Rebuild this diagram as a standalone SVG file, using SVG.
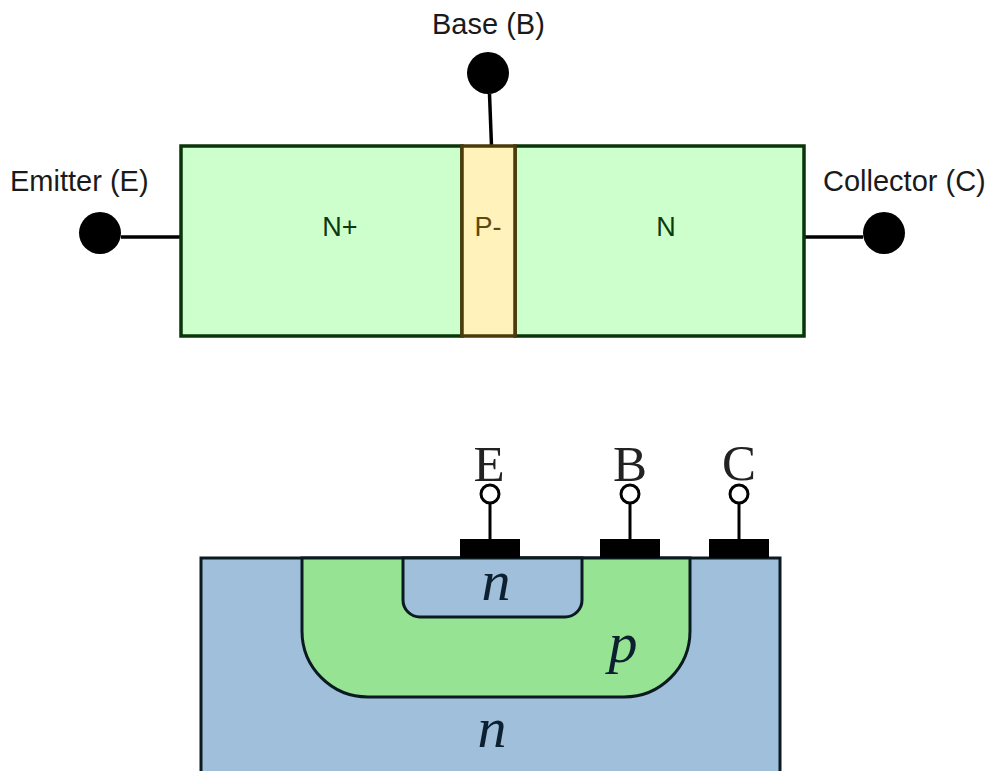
<svg xmlns="http://www.w3.org/2000/svg" width="990" height="771" viewBox="0 0 990 771">
<style>
.lab{font-family:"Liberation Sans",Arial,sans-serif;font-size:29px;fill:#1a1a1a}
.reg{font-family:"Liberation Sans",Arial,sans-serif;font-size:27px;text-anchor:middle}
.wire{stroke:#000;stroke-width:3.5;fill:none}
.dot{fill:#000}
.box{stroke:#0a350a;stroke-width:3.5}
.ser{font-family:"Liberation Serif",serif;font-size:51px;text-anchor:middle;fill:#222}
.it{font-family:"Liberation Serif",serif;font-style:italic;font-size:58px;text-anchor:middle;fill:#0c2030}
.term{fill:#fff;stroke:#000;stroke-width:3}
.line2{stroke:#000;stroke-width:3;fill:none}
.edge{stroke:#0a1a20;stroke-width:3}
</style>
<rect width="990" height="771" fill="#fff"/>
<g id="connectors">
<path class="wire" d="M121 237H181"/>
<path class="wire" d="M804 237H863"/>
<path class="wire" d="M489.500 94L491.500 146"/>
</g>
<g id="n-plus"><rect class="box" x="181" y="146" width="281" height="190" fill="#ccffcc"/><text class="reg" x="340" y="236" fill="#0c3a0c">N+</text></g>
<g id="n"><rect class="box" x="515" y="146" width="289" height="190" fill="#ccffcc"/><text class="reg" x="666" y="236" fill="#0c3a0c">N</text></g>
<g id="p-minus"><rect x="462" y="146" width="53" height="190" fill="#fff2bb" stroke="#4d3a0a" stroke-width="3.500"/><text class="reg" x="488" y="236" fill="#5c4a10">P-</text></g>
<g id="emitter"><circle class="dot" cx="100" cy="233" r="21"/><text class="lab" x="10" y="191">Emitter (E)</text></g>
<g id="base"><circle class="dot" cx="488" cy="73" r="21"/><text class="lab" x="432" y="34">Base (B)</text></g>
<g id="collector"><circle class="dot" cx="884" cy="233" r="21"/><text class="lab" x="823" y="191">Collector (C)</text></g>
<g id="structure">
<rect class="edge" x="201" y="558" width="579" height="230" fill="#a0bfdb"/>
<path class="edge" d="M302 558V631A66 66 0 0 0 368 697H624A66 66 0 0 0 690 631V558Z" fill="#97e394"/>
<path class="edge" d="M403 558V600A17 17 0 0 0 420 617H565A17 17 0 0 0 582 600V558Z" fill="#a0bfdb"/>
<text class="it" x="496" y="600">n</text>
<text class="it" x="623" y="662">p</text>
<text class="it" x="492" y="747">n</text>
</g>
<g id="term-e"><path class="line2" d="M490 503V540"/><circle class="term" cx="490" cy="494" r="9"/><rect x="460" y="539" width="60" height="19"/><text class="ser" x="489" y="481">E</text></g>
<g id="term-b"><path class="line2" d="M630 503V540"/><circle class="term" cx="630" cy="494" r="9"/><rect x="600" y="539" width="60" height="19"/><text class="ser" x="630" y="481">B</text></g>
<g id="term-c"><path class="line2" d="M739 503V540"/><circle class="term" cx="739" cy="494" r="9"/><rect x="709" y="539" width="60" height="19"/><text class="ser" x="739" y="480">C</text></g>
</svg>
